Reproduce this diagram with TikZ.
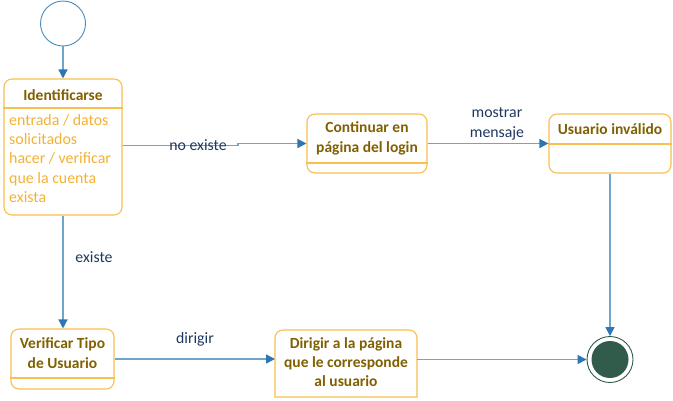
\documentclass[tikz,border=0pt]{standalone}
\usepackage{fontspec}
\setmainfont{Carlito}
\usetikzlibrary{arrows.meta,calc}
\definecolor{boxc}{RGB}{247,192,80}
\definecolor{titlec}{RGB}{128,96,0}
\definecolor{bodyc}{RGB}{245,178,50}
\definecolor{linec}{RGB}{110,165,205}
\definecolor{tipc}{RGB}{46,117,182}
\definecolor{labc}{RGB}{30,55,95}
\definecolor{initc}{RGB}{70,140,190}
\definecolor{finc}{RGB}{49,91,74}
\begin{document}
\begin{tikzpicture}[x=1pt,y=-1pt,
  statebox/.style={draw=boxc, line width=1.1pt, rounded corners=8pt, fill=white, inner sep=0pt},
  titletext/.style={text=titlec, font=\fontsize{15.5}{19.3}\selectfont\bfseries, align=center, inner sep=0pt},
  bodytext/.style={text=bodyc, font=\fontsize{15.9}{19.3}\selectfont, align=left, inner sep=0pt},
  divider/.style={draw=boxc, line width=1.1pt},
  conn/.style={draw=linec, line width=1.4pt, -{Triangle[length=9pt,width=9pt,fill=tipc,color=tipc]}},
  lab/.style={text=labc, font=\fontsize{15.8}{19.3}\selectfont, align=center, inner sep=0pt}
]
\useasboundingbox (0,0) rectangle (673,400);

% initial and final states
\node[circle, draw=initc, line width=0.9pt, fill=white, minimum size=45pt, inner sep=0pt] (init) at (63,23.5) {};
\node[circle, draw=finc, line width=0.9pt, fill=white, minimum size=46pt, inner sep=0pt] (fin) at (610,359.5) {};
\node[circle, fill=finc, minimum size=37pt, inner sep=0pt] (fininner) at (fin.center) {};

% Identificarse
\node[statebox, minimum width=118pt, minimum height=136pt] (ident) at (63,147) {};
\draw[divider] (ident.west |- 0,108) -- (ident.east |- 0,108);
\node[titletext] (identt) at (63,95) {Identificarse};
\node[bodytext, anchor=north west] (identb) at (9,114) {entrada / datos\\solicitados\\hacer / verificar\\que la cuenta\\exista};

% Continuar
\node[statebox, minimum width=120pt, minimum height=59pt] (cont) at (367,143.5) {};
\draw[divider] (cont.west |- 0,163) -- (cont.east |- 0,163);
\node[titletext] (contt) at (367,138.5) {Continuar en\\página del login};

% Usuario invalido
\node[statebox, minimum width=122pt, minimum height=59pt] (usr) at (610,143.5) {};
\draw[divider] (usr.west |- 0,144) -- (usr.east |- 0,144);
\node[titletext] (usrt) at (610,129) {Usuario inválido};

% Verificar
\node[statebox, minimum width=103pt, minimum height=60pt] (verif) at (62.5,359) {};
\draw[divider] (verif.west |- 0,378) -- (verif.east |- 0,378);
\node[titletext] (verift) at (62.5,353) {Verificar Tipo\\de Usuario};

% Dirigir
\draw[draw=boxc, line width=1.1pt, fill=white] (275,397) -- (275,338) [rounded corners=8pt] -- (275,330) -- (417,330) [sharp corners] -- (417,338) -- (417,397) -- cycle;
\coordinate (dirigw) at (275,359);
\coordinate (dirige) at (417,359.5);
\node[titletext] (dirigt) at (346,362) {Dirigir a la página\\que le corresponde\\al usuario};

% connectors
\draw[conn] (init.south) -- (ident.north);
\coordinate (j1) at (238,145.5);
\coordinate (j2) at (238,143.5);
\draw[conn] (ident.east |- j1) -- (j1) -- (j2) -- (cont.west);
\node[lab] (lno) at (198,145) {no existe};
\draw[conn] (cont.east) -- (usr.west);
\node[lab] (lmos) at (497,124) {mostrar\\mensaje};
\draw[conn] (usr.south) -- (fin.north);
\draw[conn] (ident.south) -- (verif.north -| ident.south);
\node[lab] (lex) at (94,257) {existe};
\draw[conn] (verif.east) -- (dirigw);
\node[lab] (ldir) at (195,339) {dirigir};
\draw[conn] (dirige) -- (fin.west);
\end{tikzpicture}
\end{document}
